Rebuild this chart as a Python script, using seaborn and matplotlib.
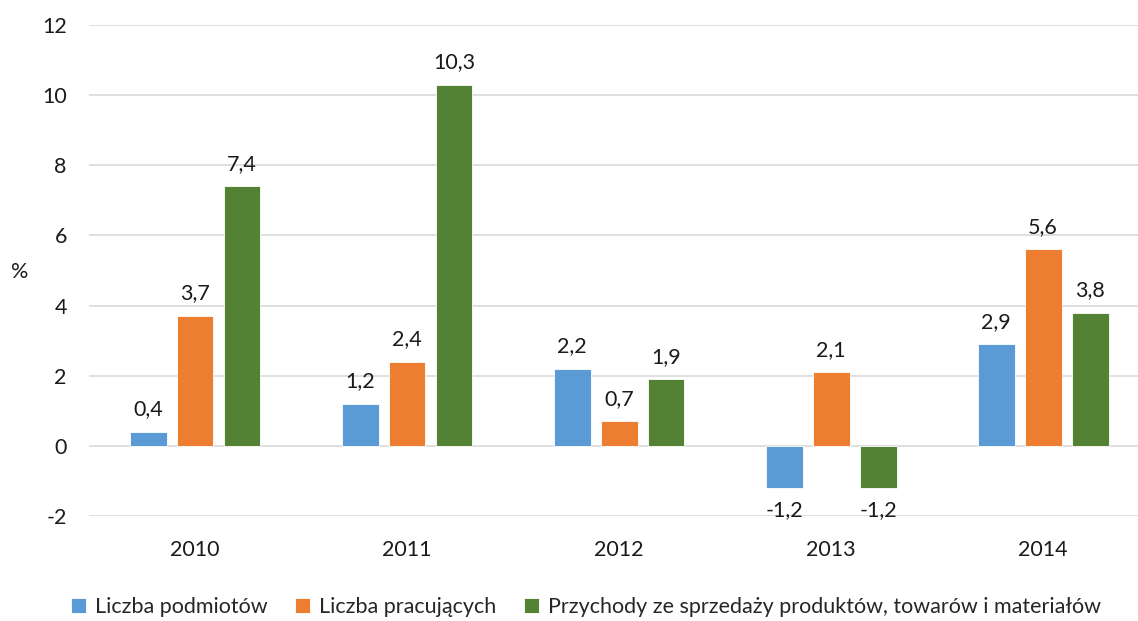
import matplotlib
matplotlib.use('Agg')
import matplotlib.pyplot as plt
import pandas as pd
import seaborn as sns

lata = ['2010', '2011', '2012', '2013', '2014']
podmioty = [0.4, 1.2, 2.2, -1.2, 2.9]
pracujacy = [3.7, 2.4, 0.7, 2.1, 5.6]
przychody = [7.4, 10.3, 1.9, -1.2, 3.8]
serie = ['Liczba podmiotów', 'Liczba pracujących',
         'Przychody ze sprzedaży produktów, towarów i materiałów']
kolory = ['#5B9BD5', '#ED7D31', '#548235']
yticks = [-2, 0, 2, 4, 6, 8, 10, 12]


def build_frame():
    rows = []
    for nazwa, wartosci in zip(serie, [podmioty, pracujacy, przychody]):
        for rok, v in zip(lata, wartosci):
            rows.append({'rok': rok, 'seria': nazwa, 'wartosc': v})
    return pd.DataFrame(rows)


def rysuj():
    sns.set_style('white')
    plt.rcParams['font.family'] = ['Lato', 'DejaVu Sans']
    df = build_frame()
    fs = 15.5

    fig = plt.figure(figsize=(11.38, 6.21), dpi=100)
    ax = fig.add_axes([89 / 1138, 105 / 621, 1049 / 1138, 491 / 621])

    sns.barplot(data=df, x='rok', y='wartosc', hue='seria', palette=kolory,
                saturation=1, width=0.665, gap=0.213, ax=ax, legend=True,
                edgecolor='white', linewidth=0.6)

    for cont in ax.containers:
        etykiety = [('%.1f' % b.get_height()).replace('.', ',') for b in cont]
        ax.bar_label(cont, labels=etykiety, padding=9, fontsize=fs, color='#1a1a1a')

    ax.set_ylim(-2, 12)
    ax.set_xlim(-0.5, 4.448)
    ax.set_yticks(yticks)
    ax.set_yticklabels([str(t) for t in yticks])
    ax.yaxis.grid(True, color='#d9d9d9', linewidth=1.2)
    ax.set_axisbelow(True)
    for s in ax.spines.values():
        s.set_visible(False)
    ax.tick_params(axis='x', length=0, pad=17, labelsize=fs, labelcolor='#1a1a1a')
    ax.tick_params(axis='y', length=0, pad=16, labelsize=fs, labelcolor='#1a1a1a')
    ax.set_xlabel('')
    ax.set_ylabel('')
    fig.text(20 / 1138, 1 - 272 / 621, '%', fontsize=fs, color='#1a1a1a',
             ha='center', va='center')

    handles, labels = ax.get_legend_handles_labels()
    ax.get_legend().remove()
    fig.legend(handles, labels, loc='center', bbox_to_anchor=(0.515, 1 - 607 / 621),
               ncol=3, frameon=False, fontsize=fs, handlelength=0.7,
               handleheight=0.7, handletextpad=0.4, columnspacing=1.3)

    fig.savefig('out.png', dpi=100)


if __name__ == "__main__":
    rysuj()
